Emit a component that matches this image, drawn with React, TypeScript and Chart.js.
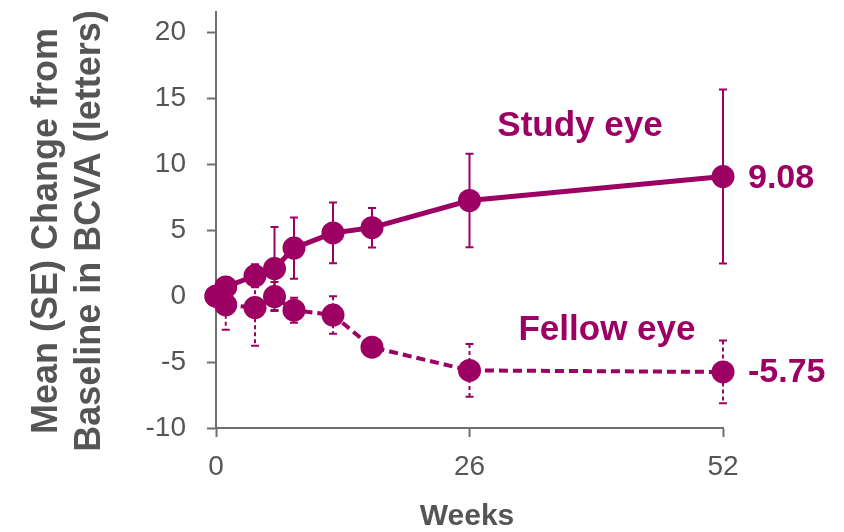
import { useEffect, useRef } from "react";
import { Chart, registerables } from "chart.js";

Chart.register(...registerables);

const weeks = [0, 1, 4, 6, 8, 12, 16, 26, 52];
const studyEye = [0, 0.7, 1.55, 2.1, 3.65, 4.8, 5.2, 7.26, 9.08];
const studySE = [0, 0.5, 0.87, 3.15, 2.32, 2.3, 1.5, 3.55, 6.6];
const fellowEye = [0, -0.65, -0.86, -0.03, -1.06, -1.43, -3.87, -5.63, -5.75];
const fellowSE = [0, 1.9, 2.9, 1.1, 0.95, 1.42, 0.3, 2.0, 2.38];
const yTicks = [-10, -5, 0, 5, 10, 15, 20];
const xTicks = [0, 26, 52];
const seriesNames = ["Study eye", "Fellow eye"];
const endLabels = ["9.08", "-5.75"];
const yTitleLines = ["Mean (SE) Change from", "Baseline in BCVA (letters)"];
const xTitle = "Weeks";

const PURPLE = "#9B0062";
const GREY = "#555555";
const AXIS = "#6E6E6E";
const FONT = "'Liberation Sans', Arial, sans-serif";

const overlayPlugin = {
  id: "overlay",
  beforeDatasetsDraw(chart: any) {
    const { ctx } = chart;
    const xs = chart.scales.x;
    const ys = chart.scales.y;
    const series = [
      { v: studyEye, se: studySE, dash: [] as number[] },
      { v: fellowEye, se: fellowSE, dash: [4, 3] },
    ];
    ctx.save();
    ctx.strokeStyle = PURPLE;
    ctx.lineWidth = 2;
    series.forEach((s) => {
      ctx.setLineDash(s.dash);
      s.v.forEach((val, j) => {
        const se = s.se[j];
        if (!se) return;
        const x = xs.getPixelForValue(weeks[j]);
        const yt = ys.getPixelForValue(val + se);
        const yb = ys.getPixelForValue(val - se);
        ctx.beginPath();
        ctx.moveTo(x, yt);
        ctx.lineTo(x, yb);
        ctx.stroke();
        ctx.setLineDash([]);
        ctx.beginPath();
        ctx.moveTo(x - 4, yt);
        ctx.lineTo(x + 4, yt);
        ctx.moveTo(x - 4, yb);
        ctx.lineTo(x + 4, yb);
        ctx.stroke();
        ctx.setLineDash(s.dash);
      });
    });
    ctx.restore();
  },
  afterDraw(chart: any) {
    const { ctx } = chart;
    const xs = chart.scales.x;
    const ys = chart.scales.y;
    ctx.save();
    ctx.fillStyle = PURPLE;
    ctx.font = `bold 35px ${FONT}`;
    ctx.textAlign = "center";
    ctx.textBaseline = "alphabetic";
    ctx.fillText(seriesNames[0], 580, 136);
    ctx.fillText(seriesNames[1], 607, 340);
    ctx.font = `bold 34px ${FONT}`;
    ctx.textAlign = "left";
    ctx.textBaseline = "middle";
    const last = weeks.length - 1;
    const xEnd = xs.getPixelForValue(weeks[last]) + 25;
    ctx.fillText(endLabels[0], xEnd, ys.getPixelForValue(studyEye[last]) + 2);
    ctx.fillText(endLabels[1], xEnd, ys.getPixelForValue(fellowEye[last]) + 1);
    ctx.fillStyle = GREY;
    ctx.font = `bold 36px ${FONT}`;
    ctx.textAlign = "center";
    ctx.save();
    ctx.translate(47, 231);
    ctx.rotate(-Math.PI / 2);
    ctx.fillText(yTitleLines[0], 0, 0);
    ctx.restore();
    ctx.save();
    ctx.translate(90, 231);
    ctx.rotate(-Math.PI / 2);
    ctx.fillText(yTitleLines[1], 0, 0);
    ctx.restore();
    ctx.font = `bold 30px ${FONT}`;
    ctx.textBaseline = "middle";
    ctx.fillText(xTitle, 467, 517);
    ctx.restore();
  },
};

export default function App() {
  const ref = useRef<HTMLCanvasElement>(null);
  useEffect(() => {
    if (!ref.current) return;
    const chart = new Chart(ref.current, {
      type: "line",
      data: {
        datasets: [
          {
            label: seriesNames[0],
            data: weeks.map((w, i) => ({ x: w, y: studyEye[i] })),
            borderColor: PURPLE,
            backgroundColor: PURPLE,
            borderWidth: 5,
            pointRadius: 11.5,
            pointHoverRadius: 11.5,
            pointBorderWidth: 0,
            tension: 0,
            clip: false as any,
          },
          {
            label: seriesNames[1],
            data: weeks.map((w, i) => ({ x: w, y: fellowEye[i] })),
            borderColor: PURPLE,
            backgroundColor: PURPLE,
            borderWidth: 4,
            borderDash: [9, 5],
            pointRadius: 11.5,
            pointHoverRadius: 11.5,
            pointBorderWidth: 0,
            tension: 0,
            clip: false as any,
          },
        ],
      },
      options: {
        responsive: false,
        animation: false,
        events: [],
        layout: { padding: { left: 0, right: 121, top: 9, bottom: 0 } },
        plugins: { legend: { display: false }, tooltip: { enabled: false } },
        scales: {
          x: {
            type: "linear",
            min: 0,
            max: 52,
            afterBuildTicks: (s: any) => {
              s.ticks = xTicks.map((v) => ({ value: v }));
            },
            afterFit: (s: any) => {
              s.height = 104;
              s.paddingLeft = 0;
              s.paddingRight = 0;
            },
            grid: {
              drawOnChartArea: false,
              drawTicks: true,
              tickLength: 9,
              tickColor: AXIS,
              tickWidth: 2,
            },
            border: { color: AXIS, width: 2 },
            ticks: {
              color: GREY,
              font: { size: 28, family: FONT },
              padding: 13,
              maxRotation: 0,
              autoSkip: false,
            },
          },
          y: {
            type: "linear",
            min: -10,
            max: 21.6,
            afterBuildTicks: (s: any) => {
              s.ticks = yTicks.map((v) => ({ value: v }));
            },
            afterFit: (s: any) => {
              s.width = 216;
              s.paddingTop = 0;
              s.paddingBottom = 0;
            },
            grid: {
              drawOnChartArea: false,
              drawTicks: true,
              tickLength: 9,
              tickColor: AXIS,
              tickWidth: 2,
            },
            border: { color: AXIS, width: 2 },
            ticks: {
              color: GREY,
              font: { size: 28, family: FONT },
              padding: 21,
              autoSkip: false,
            },
          },
        },
      },
      plugins: [overlayPlugin],
    });
    return () => chart.destroy();
  }, []);
  return (
    <div style={{ position: "fixed", left: 0, top: 0, width: 844, height: 532, background: "#fff" }}>
      <canvas ref={ref} width={844} height={532} />
    </div>
  );
}
